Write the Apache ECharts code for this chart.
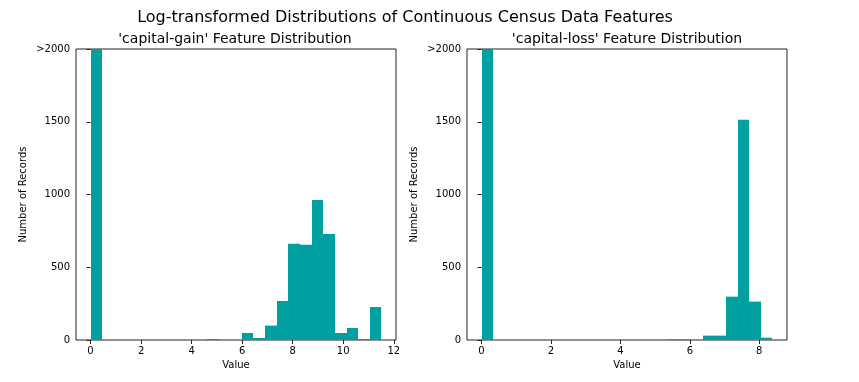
<!DOCTYPE html>
<html>
<head>
<meta charset="utf-8">
<script src="https://cdn.jsdelivr.net/npm/echarts@6/dist/echarts.min.js"></script>
<style>
html,body{margin:0;padding:0;background:#fff;}
#chart{width:859px;height:382px;}
</style>
</head>
<body>
<div id="chart"></div>
<script>
// ---- data ----
var mainTitle = "Log-transformed Distributions of Continuous Census Data Features";
var gainTitle = "'capital-gain' Feature Distribution";
var lossTitle = "'capital-loss' Feature Distribution";
// histogram range (log1p of min/max) and 25 bins each
var gainRange = [0, 11.5129];
var lossRange = [0, 8.3796];
var gainCounts = [41432, 0, 0, 0, 0, 0, 0, 0, 0, 0, 7, 0, 0, 48, 14, 99, 268, 661, 654, 963, 729, 48, 83, 7, 227];
var lossCounts = [43082, 0, 0, 0, 0, 0, 0, 0, 0, 0, 0, 0, 0, 0, 0, 0, 5, 5, 0, 30, 30, 298, 1514, 264, 16];
var gainTicks = [0, 2, 4, 6, 8, 10, 12];
var lossTicks = [0, 2, 4, 6, 8];
var yTicks = [0, 500, 1000, 1500, 2000];
var yCap = 2000;

function bins(range, counts) {
  var w = (range[1] - range[0]) / counts.length;
  return counts.map(function (c, i) { return [range[0] + i * w, range[0] + (i + 1) * w, c]; });
}
function pad(range) {
  var m = (range[1] - range[0]) * 0.05;
  return [range[0] - m, range[1] + m];
}

var color = '#00A0A0';
var font = 'DejaVu Sans';
var frame = '#222';

function renderBar(params, api) {
  var x0 = api.value(0), x1 = api.value(1), c = Math.min(api.value(2), yCap);
  if (c <= 0) return null;
  var p0 = api.coord([x0, 0]);
  var p1 = api.coord([x1, c]);
  var left = Math.round(p0[0]), right = Math.round(p1[0]);
  return {
    type: 'rect',
    shape: { x: left, y: p1[1], width: right - left, height: p0[1] - p1[1] },
    style: { fill: color }
  };
}

function xAxisFor(idx, range, ticks) {
  var r = pad(range);
  return {
    type: 'value', gridIndex: idx, min: r[0], max: r[1],
    name: 'Value', nameLocation: 'middle', nameGap: 20,
    nameTextStyle: { fontFamily: font, fontSize: 10, color: '#000' },
    axisLine: { show: false },
    splitLine: { show: false },
    axisTick: { show: true, inside: false, length: 4, customValues: ticks, lineStyle: { color: frame } },
    axisLabel: { customValues: ticks, fontFamily: font, fontSize: 10, color: '#000', margin: 6 }
  };
}
function yAxisFor(idx) {
  return {
    type: 'value', gridIndex: idx, min: 0, max: yCap, interval: 500,
    name: 'Number of Records', nameLocation: 'middle', nameGap: 48,
    nameTextStyle: { fontFamily: font, fontSize: 10, color: '#000' },
    axisLine: { show: false },
    splitLine: { show: false },
    axisTick: { show: true, inside: false, length: 4, lineStyle: { color: frame } },
    axisLabel: {
      fontFamily: font, fontSize: 10, color: '#000', margin: 6,
      formatter: function (v) { return v === yCap ? '>' + yCap : String(v); }
    }
  };
}

var chart = echarts.init(document.getElementById('chart'), null, { renderer: 'canvas' });
chart.setOption({
  backgroundColor: '#fff',
  animation: false,
  title: [
    { text: mainTitle, left: 405, top: 10, textAlign: 'center', padding: 0,
      textStyle: { fontFamily: font, fontSize: 16, fontWeight: 'normal', color: '#000' } },
    { text: gainTitle, left: 235, top: 32, textAlign: 'center', padding: 0,
      textStyle: { fontFamily: font, fontSize: 14, fontWeight: 'normal', color: '#000' } },
    { text: lossTitle, left: 627, top: 32, textAlign: 'center', padding: 0,
      textStyle: { fontFamily: font, fontSize: 14, fontWeight: 'normal', color: '#000' } }
  ],
  grid: [
    { left: 76, top: 49, width: 320, height: 291, show: true, borderColor: frame, borderWidth: 1, backgroundColor: 'transparent' },
    { left: 467, top: 49, width: 320, height: 291, show: true, borderColor: frame, borderWidth: 1, backgroundColor: 'transparent' }
  ],
  xAxis: [xAxisFor(0, gainRange, gainTicks), xAxisFor(1, lossRange, lossTicks)],
  yAxis: [yAxisFor(0), yAxisFor(1)],
  series: [
    { type: 'custom', xAxisIndex: 0, yAxisIndex: 0, renderItem: renderBar, data: bins(gainRange, gainCounts), clip: true, encode: { x: [0, 1], y: 2 } },
    { type: 'custom', xAxisIndex: 1, yAxisIndex: 1, renderItem: renderBar, data: bins(lossRange, lossCounts), clip: true, encode: { x: [0, 1], y: 2 } }
  ]
});
</script>
</body>
</html>
